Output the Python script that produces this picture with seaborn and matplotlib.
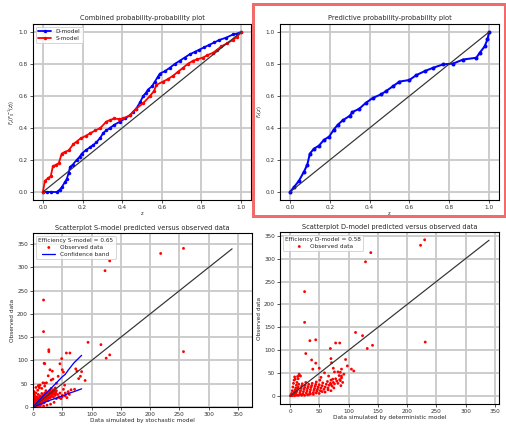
import numpy as np
import pandas as pd
import matplotlib
matplotlib.use("Agg")
import matplotlib.pyplot as plt
import seaborn as sns
from matplotlib.patches import Rectangle

# PP-plot data
z_d = [0.0, 0.02, 0.04, 0.07, 0.085, 0.095, 0.11, 0.12, 0.13, 0.137, 0.15, 0.17, 0.185, 0.196, 0.215,
       0.238, 0.255, 0.27, 0.29, 0.305, 0.32, 0.338, 0.36, 0.389, 0.415, 0.44, 0.455, 0.47, 0.49, 0.506,
       0.52, 0.53, 0.55, 0.565, 0.58, 0.59, 0.615, 0.64, 0.665, 0.69, 0.715, 0.74, 0.765, 0.79, 0.815,
       0.84, 0.865, 0.89, 0.925, 0.96, 0.98, 1.0]
f_d = [0.0, 0.0, 0.0, 0.0, 0.015, 0.03, 0.06, 0.08, 0.12, 0.157, 0.17, 0.2, 0.22, 0.24, 0.26,
       0.28, 0.295, 0.31, 0.34, 0.37, 0.385, 0.4, 0.42, 0.44, 0.46, 0.48, 0.5, 0.52, 0.56, 0.6,
       0.62, 0.64, 0.66, 0.69, 0.72, 0.74, 0.755, 0.776, 0.8, 0.82, 0.84, 0.86, 0.875, 0.89, 0.905,
       0.92, 0.935, 0.95, 0.965, 0.985, 0.99, 1.0]
z_s = [0.0, 0.01, 0.025, 0.04, 0.05, 0.065, 0.08, 0.095, 0.11, 0.13, 0.154, 0.17, 0.19, 0.215, 0.238,
       0.265, 0.29, 0.32, 0.34, 0.36, 0.385, 0.405, 0.44, 0.47, 0.506, 0.54, 0.56, 0.573, 0.606, 0.63,
       0.657, 0.68, 0.707, 0.73, 0.757, 0.78, 0.807, 0.83, 0.858, 0.88, 0.9, 0.93, 0.958, 0.98, 1.0]
f_s = [0.0, 0.07, 0.085, 0.1, 0.16, 0.17, 0.18, 0.24, 0.25, 0.26, 0.3, 0.315, 0.335, 0.35, 0.367,
       0.385, 0.4, 0.44, 0.45, 0.46, 0.455, 0.46, 0.48, 0.52, 0.555, 0.6, 0.63, 0.67, 0.69, 0.705,
       0.727, 0.75, 0.776, 0.8, 0.82, 0.83, 0.84, 0.855, 0.87, 0.89, 0.91, 0.93, 0.95, 0.97, 1.0]
z_p = [0.0, 0.02, 0.045, 0.07, 0.087, 0.1, 0.12, 0.146, 0.17, 0.197, 0.22, 0.24, 0.264, 0.3, 0.314,
       0.348, 0.38, 0.415, 0.457, 0.482, 0.516, 0.55, 0.6, 0.634, 0.676, 0.718, 0.768, 0.82, 0.87,
       0.936, 0.953, 0.978, 0.992, 1.0]
f_p = [0.0, 0.03, 0.07, 0.126, 0.17, 0.24, 0.27, 0.29, 0.325, 0.346, 0.39, 0.42, 0.447, 0.476, 0.5,
       0.52, 0.556, 0.587, 0.61, 0.63, 0.66, 0.69, 0.70, 0.73, 0.755, 0.776, 0.797, 0.803, 0.828,
       0.839, 0.87, 0.91, 0.954, 1.0]

# Scatter data: (simulated, observed)
sim_s = [257, 218, 123, 131, 18, 18, 27, 27, 19, 94, 116, 257, 125, 131, 49, 57, 63, 29, 33, 50, 52,
         73, 75, 81, 78, 89, 43, 34, 23, 9, 11, 17, 26, 31, 12, 20, 65, 71, 40, 54, 46, 20, 83,
         1, 1, 1, 2, 2, 2, 2, 3, 3, 3, 3, 4, 4, 4, 5, 5, 5, 6, 6, 6, 7, 7, 7, 8, 8, 8, 9, 9, 10, 10,
         10, 11, 11, 12, 12, 13, 13, 14, 14, 15, 15, 16, 16, 17, 17, 18, 18, 19, 19, 20, 20, 21, 21,
         22, 22, 23, 23, 24, 25, 25, 26, 26, 27, 27, 28, 28, 29, 29, 30, 30, 31, 31, 32, 33, 33, 34,
         35, 35, 36, 37, 38, 38, 39, 40, 42, 44, 46, 48, 50, 52, 55, 58, 60, 62, 15, 10, 20, 8, 5,
         2, 6, 12, 18, 24, 30, 36, 40, 45, 50, 55]
obs_s = [341, 330, 293, 314, 230, 162, 123, 119, 94, 139, 134, 119, 105, 112, 104, 116, 116, 80, 77,
         80, 75, 82, 77, 66, 61, 57, 66, 60, 52, 46, 41, 52, 67, 58, 47, 51, 37, 38, 51, 47, 93, 93, 76,
         2, 5, 9, 14, 20, 27, 33, 4, 10, 17, 24, 1, 7, 12, 3, 19, 30, 6, 11, 15, 2, 9, 22, 5, 13, 18,
         8, 27, 3, 11, 16, 7, 21, 13, 24, 5, 17, 10, 20, 14, 29, 8, 23, 18, 12, 26, 15, 21, 9, 17, 30,
         24, 13, 19, 35, 27, 16, 22, 31, 18, 25, 14, 29, 21, 33, 24, 19, 36, 27, 31, 22, 40, 29, 25,
         34, 30, 21, 37, 28, 33, 25, 41, 30, 35, 27, 22, 30, 18, 25, 38, 30, 20, 33, 27, 40, 44, 45,
         36, 42, 0, 0, 1, 2, 4, 6, 10, 18, 20, 22, 24]
sim_d = [230, 223, 138, 129, 25, 25, 231, 112, 124, 34, 44, 27, 132, 141, 78, 85, 69, 37, 39, 44, 50,
         70, 71, 74, 95, 98, 105, 109, 88, 86, 88, 86, 87, 76, 82, 66, 73, 70, 59, 53, 13, 15.6, 18, 9,
         1, 2, 3, 4, 5, 6, 7, 8, 3, 5, 6, 7, 8, 9, 10, 11, 12, 14, 16, 9, 10, 11, 12, 13, 14, 15, 16,
         17, 18, 19, 20, 21, 22, 23, 24, 25, 26, 27, 28, 29, 30, 31, 32, 33, 34, 35, 36, 37, 38, 40,
         41, 42, 43, 44, 45, 46, 47, 48, 50, 51, 52, 53, 55, 56, 58, 60, 62, 64, 65, 67, 69, 70, 72,
         74, 76, 78, 80, 82, 84, 85, 88, 90, 92, 20, 30, 40, 50, 60, 70, 45, 55, 25, 35, 65, 75, 14,
         18, 8, 12]
obs_d = [341, 329, 313, 293, 228, 161, 118, 139, 132, 121, 123, 93, 104, 111, 116, 116, 104, 79, 59,
         72, 61, 82, 73, 61, 80, 66, 59, 55, 59, 52, 44, 34, 23, 53, 53, 44, 37, 26, 51, 41, 43, 48, 44,
         37, 1, 3, 6, 12, 20, 28, 35, 42, 1, 2, 4, 7, 10, 14, 18, 24, 30, 38, 45, 3, 6, 9, 12, 16, 20,
         26, 3, 8, 12, 17, 22, 27, 5, 10, 15, 19, 24, 30, 7, 12, 17, 21, 26, 4, 9, 14, 19, 23, 28, 8,
         13, 17, 22, 26, 31, 11, 15, 20, 25, 35, 12, 18, 23, 29, 15, 20, 26, 32, 18, 24, 28, 35, 22,
         30, 27, 38, 33, 28, 45, 36, 40, 30, 48, 2, 3, 4, 6, 9, 12, 7, 10, 2, 5, 14, 18, 2, 4, 1, 2]

# Confidence band (S-model)
band_x = [0, 10, 20, 30, 40, 50, 55, 60, 70, 83]
band_up = [0, 14, 27, 39, 52, 65, 70, 79, 95, 111]
band_lo = [0, 5, 10, 15, 19, 24, 26, 29, 33, 39]

sns.set_style("whitegrid", {"axes.edgecolor": "black", "grid.color": "#c8c8c8",
                            "xtick.bottom": True, "ytick.left": True})
plt.rcParams["font.family"] = ["DejaVu Sans"]
plt.rcParams["grid.linewidth"] = 1.8
plt.rcParams["xtick.major.size"] = 3
plt.rcParams["ytick.major.size"] = 3
plt.rcParams["xtick.labelsize"] = 5.8
plt.rcParams["ytick.labelsize"] = 5.8

W, H = 506, 424
fig = plt.figure(figsize=(W / 72, H / 72), dpi=72)

def box(l, t, r, b):
    return [l / W, (H - b) / H, (r - l) / W, (b - t) / H]

ax1 = fig.add_axes(box(33, 24, 251, 200))
ax2 = fig.add_axes(box(280, 24, 499, 200))
ax3 = fig.add_axes(box(33, 233, 252, 407))
ax4 = fig.add_axes(box(280, 232, 499, 404))

for ax in (ax1, ax2, ax3, ax4):
    for sp in ax.spines.values():
        sp.set_linewidth(1.1)
        sp.set_color("black")
    ax.tick_params(colors="#333333", width=0.8, pad=2)

# Combined PP plot
sns.lineplot(x=z_d, y=f_d, ax=ax1, color="blue", marker="o", markersize=3.5, markeredgewidth=0,
             linewidth=1.8, estimator=None, sort=False, label="D-model")
sns.lineplot(x=z_s, y=f_s, ax=ax1, color="red", marker="o", markersize=3.5, markeredgewidth=0,
             linewidth=1.8, estimator=None, sort=False, label="S-model")
sns.lineplot(x=[0, 1], y=[0, 1], ax=ax1, color="#333333", linewidth=1.2)
ax1.set_title("Combined probability-probability plot", fontsize=6.6, pad=4)
ax1.set_xlabel("z", fontsize=5, labelpad=1)
ax1.set_ylabel(r"$F_z(F_0^{-1}(z))$", fontsize=5, labelpad=2)
ax1.legend(loc="upper left", fontsize=5.8, handlelength=2.2, borderpad=0.4, labelspacing=0.3,
           frameon=True)

# Predictive PP plot
sns.lineplot(x=z_p, y=f_p, ax=ax2, color="blue", marker="o", markersize=4, markeredgewidth=0,
             linewidth=2.0, estimator=None, sort=False)
sns.lineplot(x=[0, 1], y=[0, 1], ax=ax2, color="#333333", linewidth=1.2)
ax2.set_title("Predictive probability-probability plot", fontsize=6.6, pad=4)
ax2.set_xlabel("z", fontsize=5, labelpad=1)
ax2.set_ylabel(r"$F_z(z)$", fontsize=5, labelpad=2)

for ax in (ax1, ax2):
    ax.set_xlim(-0.05, 1.05)
    ax.set_ylim(-0.05, 1.05)
    ax.set_xticks([0, 0.2, 0.4, 0.6, 0.8, 1.0])
    ax.set_yticks([0, 0.2, 0.4, 0.6, 0.8, 1.0])

# Scatter S-model
sns.scatterplot(x=sim_s, y=obs_s, ax=ax3, color="red", s=8, edgecolor="none", label="Observed data")
sns.lineplot(x=band_x, y=band_up, ax=ax3, color="blue", linewidth=1.3, label="Confidence band")
sns.lineplot(x=band_x, y=band_lo, ax=ax3, color="blue", linewidth=1.3)
sns.lineplot(x=[0, 340], y=[0, 340], ax=ax3, color="#333333", linewidth=1.2)
ax3.set_xlim(0, 374)
ax3.set_ylim(0, 374)
ax3.set_title("Scatterplot S-model predicted versus observed data", fontsize=6.6, pad=3)
ax3.set_xlabel("Data simulated by stochastic model", fontsize=5.8, labelpad=1)
ax3.set_ylabel("Observed data", fontsize=5.8, labelpad=2)
ax3.legend(loc="upper left", title="Efficiency S-model = 0.65", fontsize=5.8, title_fontsize=5.8,
           handlelength=2.2, borderpad=0.4, labelspacing=0.3)

# Scatter D-model
sns.scatterplot(x=sim_d, y=obs_d, ax=ax4, color="red", s=8, edgecolor="none", label="Observed data")
sns.lineplot(x=[0, 340], y=[0, 340], ax=ax4, color="#333333", linewidth=1.2)
ax4.set_xlim(-17, 357)
ax4.set_ylim(-17, 358)
ax4.set_title("Scatterplot D-model predicted versus observed data", fontsize=6.6, pad=3)
ax4.set_xlabel("Data simulated by deterministic model", fontsize=5.8, labelpad=1)
ax4.set_ylabel("Observed data", fontsize=5.8, labelpad=2)
ax4.legend(loc="upper left", title="Efficiency D-model = 0.58", fontsize=5.8, title_fontsize=5.8,
           handlelength=2.2, borderpad=0.4, labelspacing=0.3)

for ax in (ax3, ax4):
    ax.set_xticks(range(0, 351, 50))
    ax.set_yticks(range(0, 351, 50))

# highlight frame around the predictive panel
fig.patches.append(Rectangle((253 / W, (H - 216) / H), 252 / W, 212 / H, transform=fig.transFigure,
                             fill=False, edgecolor="#f26b6b", linewidth=3))

fig.savefig("out.png", dpi=72)
